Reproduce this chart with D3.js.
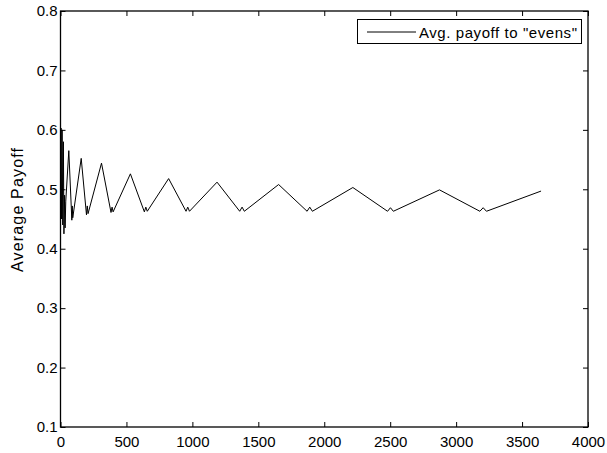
<!DOCTYPE html>
<html>
<head>
<meta charset="utf-8">
<script src="https://cdn.jsdelivr.net/npm/d3@7"></script>
<style>
  html, body { margin: 0; padding: 0; background: #fff; }
  svg { display: block; font-family: "Liberation Sans", Arial, Helvetica, sans-serif; }
</style>
</head>
<body>
<svg id="chart" width="607" height="453"></svg>
<script>
// Round number (x) and running average payoff (y) of the "evens" player
const rounds = [1, 4, 8, 12, 17, 22, 26, 31, 35, 40,
  63, 86, 89, 93,
  157, 197, 203, 209,
  311, 383, 391, 399,
  530, 636, 647, 658,
  820, 952, 965, 978,
  1187, 1359, 1377, 1394,
  1654, 1870, 1890, 1910,
  2217, 2480, 2502, 2524,
  2874, 3180, 3205, 3230,
  3644];
const avgPayoff = [0.50, 0.603, 0.45, 0.60, 0.44, 0.58, 0.425, 0.49, 0.435, 0.48,
  0.565, 0.448, 0.472, 0.452,
  0.552, 0.457, 0.472, 0.459,
  0.544, 0.461, 0.470, 0.462,
  0.526, 0.462, 0.470, 0.463,
  0.518, 0.463, 0.470, 0.463,
  0.512, 0.463, 0.470, 0.463,
  0.508, 0.463, 0.470, 0.463,
  0.503, 0.463, 0.469, 0.463,
  0.499, 0.463, 0.469, 0.463,
  0.497];
const xTicks = [0, 500, 1000, 1500, 2000, 2500, 3000, 3500, 4000];
const yTicks = [0.1, 0.2, 0.3, 0.4, 0.5, 0.6, 0.7, 0.8];
const seriesName = 'Avg. payoff to "evens"';
const yTitle = "Average Payoff";

const svg = d3.select("#chart");
const plotL = 60.5, plotR = 588, plotT = 11, plotB = 427;
const fs = 15;

const x = d3.scaleLinear().domain([0, 4000]).range([plotL, plotR]);
const y = d3.scaleLinear().domain([0.1, 0.8]).range([plotB, plotT]);

svg.append("defs").append("clipPath").attr("id", "plotClip")
  .append("rect").attr("x", plotL).attr("y", plotT)
  .attr("width", plotR - plotL).attr("height", plotB - plotT);

// data line
const line = d3.line().x((d, i) => x(rounds[i])).y(d => y(d));
svg.append("path")
  .datum(avgPayoff)
  .attr("clip-path", "url(#plotClip)")
  .attr("d", line)
  .attr("fill", "none")
  .attr("stroke", "#000")
  .attr("stroke-width", 1);

// axes with inward ticks on all four sides
function styleAxis(g, showLabels) {
  g.select(".domain").remove();
  g.selectAll(".tick line").attr("stroke", "#000").attr("stroke-width", 1);
  g.selectAll(".tick text").attr("fill", "#000").style("font-size", fs + "px")
    .style("font-family", '"Liberation Sans", Arial, sans-serif');
  if (!showLabels) g.selectAll(".tick text").remove();
}

svg.append("g").attr("transform", `translate(0,${plotB})`)
  .call(d3.axisBottom(x).tickValues(xTicks).tickSize(-5).tickPadding(9).tickFormat(d3.format("d")))
  .call(g => styleAxis(g, true));
svg.append("g").attr("transform", `translate(0,${plotT})`)
  .call(d3.axisTop(x).tickValues(xTicks).tickSize(-5))
  .call(g => styleAxis(g, false));
svg.append("g").attr("transform", `translate(${plotL},0)`)
  .call(d3.axisLeft(y).tickValues(yTicks).tickSize(-5).tickPadding(3).tickFormat(d3.format(".1f")))
  .call(g => styleAxis(g, true));
svg.append("g").attr("transform", `translate(${plotR},0)`)
  .call(d3.axisRight(y).tickValues(yTicks).tickSize(-5))
  .call(g => styleAxis(g, false));

svg.append("rect")
  .attr("x", plotL).attr("y", plotT)
  .attr("width", plotR - plotL).attr("height", plotB - plotT)
  .attr("fill", "none").attr("stroke", "#000").attr("stroke-width", 1.3);

// y axis title
svg.append("text")
  .attr("transform", `translate(23,${(plotT + plotB) / 2 - 9}) rotate(-90)`)
  .attr("text-anchor", "middle")
  .attr("textLength", 124)
  .attr("lengthAdjust", "spacing")
  .style("font-size", "16px")
  .attr("fill", "#000")
  .text(yTitle);

// legend
const lg = svg.append("g");
lg.append("rect").attr("x", 357.5).attr("y", 19.5).attr("width", 224).attr("height", 24)
  .attr("fill", "#fff").attr("stroke", "#000").attr("stroke-width", 1);
lg.append("line").attr("x1", 367).attr("x2", 416).attr("y1", 32).attr("y2", 32)
  .attr("stroke", "#000").attr("stroke-width", 1);
lg.append("text").attr("x", 419).attr("y", 37.5)
  .attr("textLength", 158)
  .attr("lengthAdjust", "spacing")
  .style("font-size", fs + "px").attr("fill", "#000")
  .text(seriesName);
</script>
</body>
</html>
